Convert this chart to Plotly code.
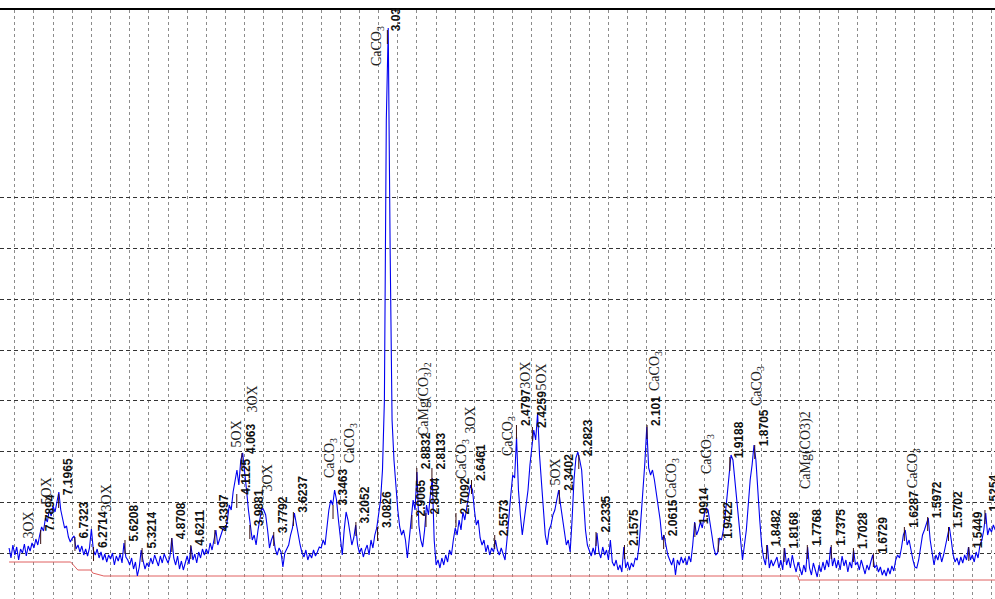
import math
import plotly.graph_objects as go

# ---------------- data ----------------
# XRD scan: 2-theta (deg, Cu Ka) start and step, intensities
scan_start = 9.7
scan_step = 0.1
intensity = [
    105, 95, 108,
    98, 106, 93, 104, 100, 109, 97, 107, 102, 110,
    105, 114, 108, 118, 126, 122, 135, 131, 143, 137,
    147, 141, 150, 161, 143, 135, 125, 127, 116, 111,
    115, 117, 104, 108, 101, 107, 98, 104, 97, 105,
    124, 103, 98, 104, 95, 101, 93, 99, 91, 98,
    94, 100, 88, 97, 92, 99, 90, 110, 96, 93,
    88, 95, 84, 91, 77, 86, 103, 92, 84, 90,
    86, 95, 89, 98, 92, 87, 97, 90, 99, 94,
    90, 96, 115, 95, 88, 97, 84, 92, 83, 90,
    97, 89, 107, 93, 99, 90, 101, 95, 104, 98,
    104, 99, 110, 103, 112, 123, 108, 114, 118, 126,
    123, 133, 148, 143, 161, 173, 183, 168, 193, 200,
    178, 163, 143, 128, 113, 118, 108, 123, 133, 145,
    143, 138, 123, 105, 113, 118, 104, 98, 105, 101,
    86, 100, 104, 108, 118, 125, 140, 128, 116, 108,
    100, 96, 103, 93, 99, 95, 103, 97, 101, 106,
    105, 113, 108, 128, 143, 153, 148, 163, 153, 133,
    113, 98, 123, 141, 133, 118, 108, 115, 128, 108,
    100, 105, 96, 103, 108, 98, 113, 105, 118, 125,
    138, 153, 183, 253, 533, 625, 403, 233, 193, 163,
    143, 126, 118, 123, 113, 95, 113, 133, 153, 143,
    181, 128, 113, 106, 123, 148, 138, 158, 175, 113,
    88, 93, 85, 95, 88, 98, 91, 103, 98, 113,
    125, 118, 133, 123, 141, 133, 148, 158, 168, 163,
    143, 128, 133, 115, 108, 113, 101, 108, 98, 105,
    101, 113, 103, 98, 105, 100, 93, 113, 138, 158,
    178, 175, 216, 163, 138, 118, 133, 148, 163, 188,
    208, 223, 213, 240, 198, 173, 143, 118, 108, 123,
    128, 138, 143, 153, 163, 148, 133, 118, 108, 113,
    101, 133, 173, 195, 201, 193, 183, 153, 123, 108,
    103, 97, 105, 98, 120, 101, 95, 106, 98, 103,
    93, 113, 91, 87, 93, 83, 88, 81, 106, 85,
    91, 83, 90, 86, 95, 93, 108, 133, 163, 190,
    226, 185, 178, 183, 173, 161, 148, 133, 113, 118,
    108, 98, 93, 88, 95, 78, 93, 88, 96, 90,
    95, 88, 97, 91, 108, 131, 118, 123, 131, 125,
    138, 145, 143, 128, 118, 105, 98, 100, 115, 113,
    123, 138, 158, 183, 198, 193, 173, 153, 128, 108,
    93, 108, 123, 148, 173, 188, 208, 193, 158, 133,
    108, 95, 88, 108, 85, 93, 87, 91, 96, 85,
    93, 83, 105, 88, 95, 85, 98, 88, 81, 91,
    83, 78, 88, 81, 106, 85, 78, 90, 83, 76,
    88, 81, 91, 83, 93, 86, 106, 87, 95, 85,
    93, 83, 97, 87, 93, 81, 91, 85, 103, 88,
    91, 83, 93, 86, 79, 88, 83, 91, 98, 85,
    88, 81, 86, 78, 83, 77, 85, 79, 87, 82,
    93, 98, 95, 105, 118, 123, 108, 113, 101, 93,
    86, 85, 93, 108, 118, 123, 128, 135, 113, 98,
    88, 98, 93, 101, 91, 98, 108, 118, 126, 113,
    98, 91, 95, 88, 96, 90, 98, 93, 106, 93,
    98, 91, 101, 95, 108, 113, 123, 140, 118, 125,
    121, 128, 123,
]
two_theta = [round(scan_start + scan_step * i, 3) for i in range(len(intensity))]

# background line
bg_two_theta = [9.70, 12.92, 13.29, 13.97, 14.07, 14.65, 50.89, 50.94, 61.23]
bg_intensity = [91, 91, 83, 83, 80, 77, 77, 73, 73]

# peak d-spacing labels (Angstrom) and the intensity at the label foot
peak_d = ["7.7894", "7.1965", "6.7323", "6.2714", "5.6208", "5.3214", "4.8708", "4.6211",
          "4.3397", "4.1125", "4.063", "3.9881", "3.7792", "3.6237", "3.3463", "3.2052",
          "3.0826", "3.03", "2.9065", "2.8832", "2.8404", "2.8133", "2.7092", "2.6461",
          "2.5573", "2.4797", "2.4259", "2.3402", "2.2823", "2.2335", "2.1575", "2.101",
          "2.0615", "1.9914", "1.9422", "1.9188", "1.8705", "1.8482", "1.8168", "1.7768",
          "1.7375", "1.7028", "1.6729", "1.6287", "1.5972", "1.5702", "1.5449", "1.5254"]
peak_label_int = [123, 159, 116, 106, 113, 105, 115, 108,
                  123, 159, 200, 128, 121, 141, 148, 131,
                  126, 623, 138, 185, 140, 185, 140, 173,
                  118, 228, 226, 163, 198, 121, 108, 228,
                  118, 130, 115, 196, 208, 108, 105, 108,
                  108, 105, 100, 126, 136, 126, 106, 143]

# phase labels
phase_text = ["3OX", "5OX", "3OX", "5OX", "3OX", "3OX", "CaCO<sub>3</sub>", "CaCO<sub>3</sub>",
              "CaCO<sub>3</sub>", "CaMg(CO<sub>3</sub>)<sub>2</sub>", "CaCO<sub>3</sub>", "3OX",
              "CaCO<sub>3</sub>", "3OX", "5OX", "5OX", "CaCO<sub>3</sub>", "CaCO<sub>3</sub>",
              "CaCO<sub>3</sub>", "CaCO<sub>3</sub>", "CaMg(CO3)2", "CaCO<sub>3</sub>"]
phase_two_theta = [10.69, 11.68, 14.81, 21.60, 22.39, 23.22, 26.46, 27.51,
                   28.92, 31.37, 33.35, 33.77, 35.76, 36.65, 37.48, 38.21,
                   43.43, 44.32, 46.15, 48.76, 51.32, 56.91]
phase_int = [115, 150, 143, 207, 241, 163, 176, 191,
             588, 218, 175, 220, 198, 265, 263, 168,
             263, 156, 180, 248, 165, 166]

WAVELENGTH = 1.5406  # Cu K-alpha1


def bragg_two_theta(d):
    return math.degrees(2 * math.asin(WAVELENGTH / (2 * float(d))))


peak_tt = [bragg_two_theta(d) for d in peak_d]

# ---------------- figure ----------------
fig = go.Figure()

fig.add_trace(go.Scatter(x=bg_two_theta, y=bg_intensity, mode="lines",
                         line=dict(color="#e06060", width=1), hoverinfo="skip"))
fig.add_trace(go.Scatter(x=two_theta, y=intensity, mode="lines",
                         line=dict(color="#0000f0", width=1.1), hoverinfo="skip"))

# peak marker sticks
mx, my = [], []
for t, yv in zip(peak_tt, peak_label_int):
    mx += [t, t, None]
    my += [yv, yv - 14, None]
fig.add_trace(go.Scatter(x=mx, y=my, mode="lines",
                         line=dict(color="#3a1010", width=1), hoverinfo="skip"))

annotations = []
for d, t, yv in zip(peak_d, peak_tt, peak_label_int):
    annotations.append(dict(
        x=t, y=yv, text=d, textangle=-90, showarrow=False,
        xanchor="left", yanchor="bottom", xshift=1, yshift=-2,
        font=dict(family="Liberation Sans", size=12, color="#111111", weight="bold"),
        borderpad=0))
for txt, t, yv in zip(phase_text, phase_two_theta, phase_int):
    annotations.append(dict(
        x=t, y=yv, text=txt, textangle=-90, showarrow=False,
        xanchor="center", yanchor="bottom", yshift=-2,
        font=dict(family="Liberation Serif", size=14, color="#222222"),
        borderpad=0))

grid_levels = [100 + 50.75 * k for k in range(8)]

fig.update_layout(
    width=995, height=599,
    margin=dict(l=0, r=0, t=10, b=0),
    paper_bgcolor="white", plot_bgcolor="white",
    showlegend=False,
    annotations=annotations,
    xaxis=dict(range=[9.227, 61.185], side="top", showline=True, linewidth=2,
               linecolor="black", showticklabels=False, ticks="",
               tick0=10, dtick=1, showgrid=True, gridcolor="#8c8c8c",
               griddash="3px,3px", gridwidth=1, zeroline=False),
    yaxis=dict(range=[54, 643], showline=False, showticklabels=False, ticks="",
               tickmode="array", tickvals=grid_levels, showgrid=True,
               gridcolor="#333333", griddash="4px,3px", gridwidth=1, zeroline=False),
)

fig.write_html("out.html", config={"displayModeBar": False},
               post_script="document.body.style.margin='0';document.body.style.overflow='hidden';")
